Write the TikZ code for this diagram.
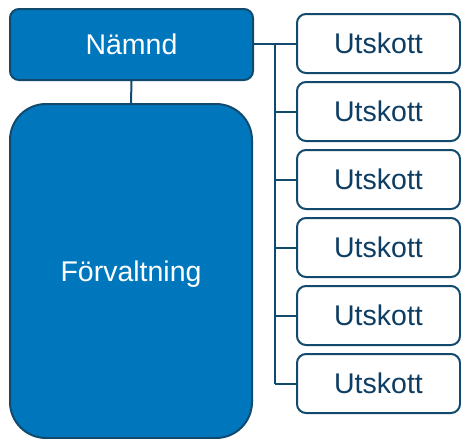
\documentclass[tikz,border=0pt]{standalone}
\usepackage{fontspec}
\setmainfont{Liberation Sans}
\usepackage{tikz}
\usetikzlibrary{positioning,calc}
\definecolor{orgblue}{HTML}{0077BD}
\definecolor{orgnavy}{HTML}{124A6E}
\definecolor{orgtext}{HTML}{0D3D62}
\tikzset{
  bluebox/.style={draw=orgnavy, line width=2pt, fill=orgblue, text=white,
    font=\fontsize{28.5}{34}\selectfont, inner sep=0pt},
  subbox/.style={draw=orgnavy, line width=2pt, fill=white, text=orgtext, rounded corners=9pt,
    minimum width=163pt, minimum height=59pt, inner sep=0pt,
    font=\fontsize{28.5}{34}\selectfont},
  link/.style={draw=orgnavy, line width=2pt}
}
\begin{document}
\begin{tikzpicture}[x=1pt,y=-1pt]
  \useasboundingbox (0,0) rectangle (461,439);
  % main boxes
  \node[bluebox, rounded corners=9pt, minimum width=243pt, minimum height=71pt] (namnd) at (131.5,44.5) {Nämnd};
  \node[bluebox, rounded corners=36pt, minimum width=242pt, minimum height=334pt, text depth=0pt] (forv) at (131,271) {Förvaltning};
  % committees
  \foreach \i in {1,...,6}
    \node[subbox] (u\i) at (378.5,{43.5+68*(\i-1)}) {Utskott};
  % connectors
  \coordinate (trunk) at (275,0);
  \draw[link] (namnd.south) -- (forv.north);
  \draw[link] (namnd.east |- u1) -- (u1.west);
  \draw[link] (trunk |- u1) -- (trunk |- u6);
  \foreach \i in {2,...,6}
    \draw[link] (trunk |- u\i) -- (u\i.west);
\end{tikzpicture}
\end{document}
